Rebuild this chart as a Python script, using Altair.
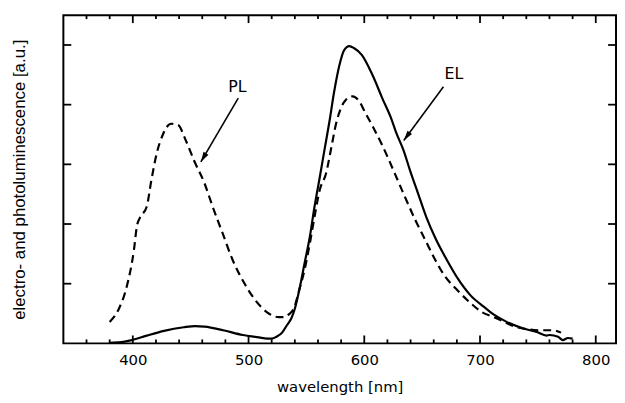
import math
import altair as alt
import pandas as pd

# ---- data ----
el_wl = [380, 390, 398, 412, 427, 444, 454, 462, 478, 495, 509, 516, 520, 524, 529, 533, 537, 540,
         544, 548.5, 553, 557, 561.5, 565.5, 570, 574, 578.5, 582.5, 587, 591, 598, 607, 615.5, 624,
         627, 634, 639.5, 646.5, 653.5, 662, 671, 681, 692, 703.5, 712, 723, 737.5, 749, 757.5, 760,
         767.5, 771.5, 776, 780]
el_val = [0.01, 0.02, 0.05, 0.13, 0.21, 0.27, 0.29, 0.28, 0.22, 0.14, 0.10, 0.08, 0.08, 0.11, 0.18,
          0.30, 0.42, 0.58, 0.91, 1.35, 1.79, 2.29, 2.78, 3.23, 3.73, 4.22, 4.66, 4.91, 4.98, 4.95,
          4.83, 4.50, 4.11, 3.73, 3.56, 3.23, 2.90, 2.51, 2.12, 1.74, 1.41, 1.08, 0.80, 0.61, 0.48,
          0.36, 0.25, 0.19, 0.13, 0.14, 0.11, 0.055, 0.09, 0.08]

pl_wl = [380, 388, 395, 401, 403.5, 406, 412, 416, 420.5, 426, 433, 439, 446, 453, 462, 469, 477.5,
         486, 496, 506, 516, 526, 531, 535, 539, 544, 548.5, 553, 557, 561.5, 567, 571.5, 575.5, 580,
         584, 590, 595.5, 601, 608, 615, 620, 626.5, 635, 644, 652.5, 661, 669.5, 679.5, 691, 702,
         712, 723, 730, 740, 750, 757, 763, 770]
pl_val = [0.36, 0.58, 0.97, 1.57, 1.96, 2.10, 2.29, 2.73, 3.17, 3.50, 3.68, 3.66, 3.39, 3.06, 2.68,
          2.29, 1.85, 1.41, 1.02, 0.72, 0.52, 0.44, 0.44, 0.49, 0.58, 0.91, 1.24, 1.68, 2.12, 2.57,
          2.85, 3.28, 3.67, 3.95, 4.08, 4.14, 4.06, 3.86, 3.61, 3.34, 3.13, 2.84, 2.46, 2.07, 1.74,
          1.41, 1.13, 0.91, 0.69, 0.52, 0.44, 0.34, 0.28, 0.24, 0.22, 0.22, 0.22, 0.18]

x_labels = [400, 500, 600, 700, 800]
x_minor = [360, 380, 420, 440, 460, 480, 520, 540, 560, 580, 620, 640, 660, 680,
           720, 740, 760, 780]
x_major = [400, 500, 600, 700, 800]
y_ticks = [1, 2, 3, 4, 5]

ann_text = ["PL", "EL"]
ann_wl = [490.3, 677.5]
ann_val = [4.29, 4.51]

arrow_start_wl = [491.1, 668.4]
arrow_start_val = [4.11, 4.30]
arrow_end_wl = [458.8, 634.1]
arrow_end_val = [3.04, 3.40]

# ---- layout ----
W, H = 559, 332
X_DOM = [340, 817.5]
Y_DOM = [0, 5.5]

xs = alt.Scale(domain=X_DOM, nice=False, zero=False)
ys = alt.Scale(domain=Y_DOM, nice=False, zero=False)

xaxis = alt.Axis(values=x_labels, ticks=False, tickSize=0, domain=False, grid=False,
                 labelFont="DejaVu Sans", labelFontSize=15, labelPadding=9, labelColor="black",
                 title="wavelength [nm]", titleFont="DejaVu Sans", titleFontSize=15,
                 titleFontWeight="normal", titlePadding=13, titleColor="black")
yaxis = alt.Axis(labels=False, ticks=False, tickSize=0, domain=False, grid=False,
                 title="electro- and photoluminescence [a.u.]", titleFont="Liberation Sans",
                 titleFontSize=17, titleFontWeight="normal", titlePadding=35, titleColor="black")


def X(field="wl"):
    return alt.X(f"{field}:Q", scale=xs, axis=xaxis)


def Y(field="val"):
    return alt.Y(f"{field}:Q", scale=ys, axis=yaxis)


el_df = pd.DataFrame({"wl": el_wl, "val": el_val})
pl_df = pd.DataFrame({"wl": pl_wl, "val": pl_val})

el_line = alt.Chart(el_df).mark_line(color="black", strokeWidth=2.2, interpolate="monotone").encode(
    x=X(), y=Y())
pl_line = alt.Chart(pl_df).mark_line(color="black", strokeWidth=2.2, strokeDash=[8, 5],
                                      interpolate="monotone").encode(x=X(), y=Y())

minor_df = pd.DataFrame({"wl": x_minor})
major_df = pd.DataFrame({"wl": x_major})
yt_df = pd.DataFrame({"val": y_ticks})

tick_style = dict(color="black", strokeWidth=1.8)
bot_minor = alt.Chart(minor_df).mark_rule(**tick_style).encode(
    x=X(), y=alt.value(H), y2=alt.value(H - 4))
bot_major = alt.Chart(major_df).mark_rule(**tick_style).encode(
    x=X(), y=alt.value(H), y2=alt.value(H - 8))
top_minor = alt.Chart(minor_df).mark_rule(**tick_style).encode(
    x=X(), y=alt.value(0), y2=alt.value(4))
top_major = alt.Chart(major_df).mark_rule(**tick_style).encode(
    x=X(), y=alt.value(0), y2=alt.value(8))
left_t = alt.Chart(yt_df).mark_rule(**tick_style).encode(
    y=Y(), x=alt.value(0), x2=alt.value(8))
right_t = alt.Chart(yt_df).mark_rule(**tick_style).encode(
    y=Y(), x=alt.value(W), x2=alt.value(W - 8))

ann_df = pd.DataFrame({"wl": ann_wl, "val": ann_val, "t": ann_text})
ann = alt.Chart(ann_df).mark_text(font="DejaVu Sans", fontSize=16, color="black",
                                  align="center", baseline="middle").encode(
    x=X(), y=Y(), text="t:N")

arr_df = pd.DataFrame({"wl": arrow_start_wl, "val": arrow_start_val,
                       "wl2": arrow_end_wl, "val2": arrow_end_val})
arrow_lines = alt.Chart(arr_df).mark_rule(color="black", strokeWidth=1.6).encode(
    x=X(), y=Y(), x2="wl2:Q", y2="val2:Q")

px_x = W / (X_DOM[1] - X_DOM[0])
px_y = H / (Y_DOM[1] - Y_DOM[0])
heads = []
for i in range(len(arrow_end_wl)):
    dx = (arrow_end_wl[i] - arrow_start_wl[i]) * px_x
    dy = -(arrow_end_val[i] - arrow_start_val[i]) * px_y
    ang = math.degrees(math.atan2(dx, -dy)) % 360
    hd = pd.DataFrame({"wl": [arrow_end_wl[i]], "val": [arrow_end_val[i]]})
    heads.append(alt.Chart(hd).mark_point(shape="M0,0L0.28,1L-0.28,1Z", filled=True,
                                          color="black", opacity=1, size=420, strokeWidth=0,
                                          angle=round(ang, 1)).encode(x=X(), y=Y()))

chart = alt.layer(el_line, pl_line, bot_minor, bot_major, top_minor, top_major, left_t, right_t,
                  ann, arrow_lines, *heads).properties(
    width=W, height=H,
    background="white",
    autosize=alt.AutoSizeParams(type="none"),
    padding={"left": 56, "top": 5, "right": 1, "bottom": 50},
).configure_view(stroke="black", strokeWidth=2)

chart.save("out.html", embed_options={"renderer": "svg", "actions": False})
